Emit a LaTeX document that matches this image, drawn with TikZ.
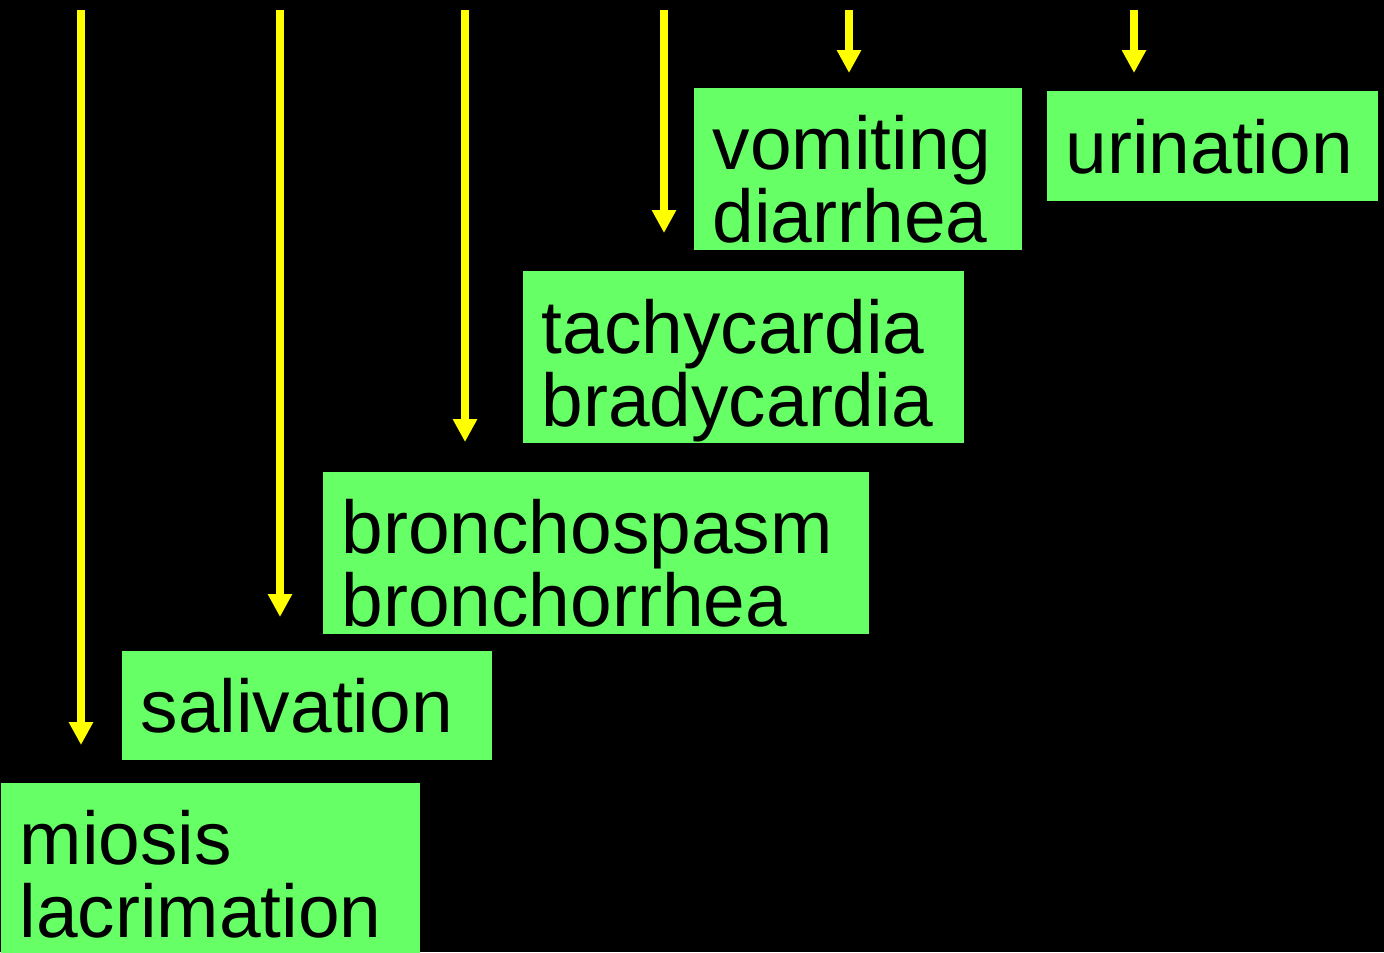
\documentclass[tikz,border=0pt]{standalone}
\usepackage{fontspec}
\setmainfont{Liberation Sans}
\usepackage{tikz}
\usetikzlibrary{arrows.meta, calc}

\definecolor{boxgreen}{HTML}{66FF66}
\definecolor{arryellow}{HTML}{FFFF00}

\tikzset{
  symbox/.style={fill=boxgreen, draw=none, inner sep=0pt, anchor=north west},
  symtext/.style={anchor=base west, inner sep=0pt, text width=6cm, align=left,
    font=\fontsize{21.3}{#1}\selectfont},
  symtext/.default=21pt,
  downarr/.style={arryellow, line width=0.075cm, -{Triangle[length=0.23cm, width=0.23cm]}}
}

\begin{document}
\begin{tikzpicture}
      \fill[black] (0,0) rectangle (13.84,-9.52);
      \useasboundingbox (0,0) rectangle (13.84,-9.52);
      % boxes
      \node[symbox, minimum width=4.19cm, minimum height=1.70cm] (miosis) at (0,-7.82) {};
      \node[symbox, minimum width=3.70cm, minimum height=1.09cm] (saliv) at (1.21,-6.50) {};
      \node[symbox, minimum width=5.46cm, minimum height=1.62cm] (broncho) at (3.22,-4.71) {};
      \node[symbox, minimum width=4.41cm, minimum height=1.72cm] (cardia) at (5.22,-2.70) {};
      \node[symbox, minimum width=3.28cm, minimum height=1.62cm] (vomit) at (6.93,-0.87) {};
      \node[symbox, minimum width=3.31cm, minimum height=1.10cm] (urin) at (10.46,-0.90) {};
      % texts
      \node[symtext=21pt] (miosis text) at (0.19,-8.64) {miosis\\lacrimation};
      \node[symtext] (saliv text) at (1.40,-7.32) {salivation};
      \node[symtext=19.35pt] (broncho text) at (3.41,-5.53) {bronchospasm\\bronchorrhea};
      \node[symtext=21pt] (cardia text) at (5.41,-3.53) {tachycardia\\bradycardia};
      \node[symtext=19.35pt] (vomit text) at (7.12,-1.69) {vomiting\\diarrhea};
      \node[symtext] (urin text) at (10.65,-1.73) {urination};
      % arrows
      \coordinate (a1) at (0.81,-0.10);
      \coordinate (a2) at (2.80,-0.10);
      \coordinate (a3) at (4.65,-0.10);
      \coordinate (a4) at (6.64,-0.10);
      \coordinate (a5) at (8.49,-0.10);
      \coordinate (a6) at (11.34,-0.10);
      \draw[downarr, shorten >=0.37cm] (a1) -- (a1 |- miosis.north);
      \draw[downarr, shorten >=0.33cm] (a2) -- (a2 |- saliv.north);
      \draw[downarr, shorten >=0.29cm] (a3) -- (a3 |- broncho.north);
      \draw[downarr, shorten >=0.37cm] (a4) -- (a4 |- cardia.north);
      \draw[downarr, shorten >=0.14cm] (a5) -- (a5 |- vomit.north);
      \draw[downarr, shorten >=0.17cm] (a6) -- (a6 |- urin.north);
    \end{tikzpicture}
\end{document}
